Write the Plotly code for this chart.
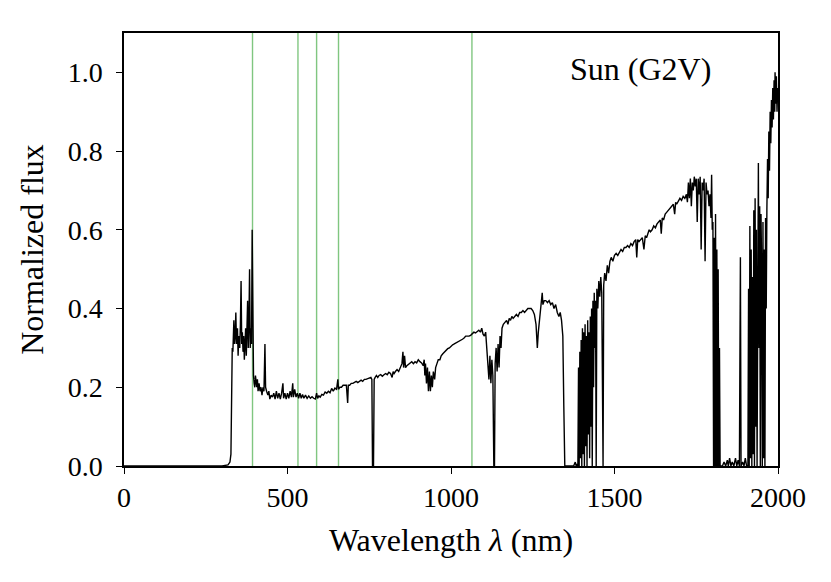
import plotly.graph_objects as go

# solar spectrum, (wavelength nm, normalized flux), split by region
uv_edge = [(0, 0), (300, 0), (318, 0.003), (324, 0.01), (327, 0.03), (329, 0.27), (331, 0.30),
           (333, 0.29), (336, 0.37), (338, 0.31), (340, 0.33), (342, 0.39), (344, 0.31),
           (347, 0.35), (349, 0.28), (351, 0.33), (354, 0.30), (356, 0.36), (358, 0.47),
           (360, 0.31), (362, 0.34), (364, 0.29), (366, 0.33), (368, 0.27), (370, 0.32),
           (372, 0.35), (374, 0.28), (376, 0.33), (378, 0.42), (380, 0.30), (382, 0.36),
           (384, 0.50), (386, 0.30), (388, 0.35), (390, 0.31), (392, 0.60), (394, 0.30),
           (396, 0.23), (398, 0.21), (400, 0.20), (402, 0.23), (404, 0.21), (406, 0.20),
           (408, 0.22), (410, 0.19), (413, 0.21), (416, 0.19), (419, 0.20), (422, 0.18),
           (425, 0.20), (428, 0.19), (431, 0.31), (433, 0.20), (436, 0.19), (440, 0.18),
           (443, 0.19), (446, 0.17)]

visible = [(450, 0.18), (454, 0.175), (458, 0.185), (462, 0.17), (466, 0.19), (470, 0.172),
           (474, 0.185), (478, 0.17), (482, 0.185), (486, 0.21), (488, 0.172), (492, 0.185),
           (496, 0.17), (500, 0.185), (504, 0.172), (508, 0.19), (512, 0.175), (516, 0.21),
           (518, 0.175), (522, 0.195), (526, 0.175), (530, 0.185), (534, 0.172), (538, 0.185),
           (542, 0.172), (546, 0.182), (550, 0.172), (555, 0.18), (560, 0.172), (565, 0.178),
           (570, 0.172), (575, 0.176), (580, 0.172), (585, 0.17), (589, 0.185), (592, 0.172),
           (596, 0.178), (600, 0.175), (605, 0.182), (610, 0.18), (615, 0.188), (620, 0.185),
           (625, 0.19), (630, 0.186), (635, 0.197), (640, 0.19), (645, 0.198), (650, 0.195),
           (654, 0.22), (656, 0.195), (660, 0.2), (665, 0.2), (670, 0.205), (675, 0.205),
           (680, 0.205), (684, 0.16), (686, 0.205), (690, 0.205), (695, 0.21), (700, 0.21),
           (705, 0.212), (710, 0.215), (715, 0.212), (720, 0.215), (725, 0.218), (730, 0.215),
           (735, 0.22), (740, 0.22), (745, 0.222), (750, 0.225), (755, 0.225), (758, 0.22),
           (760, 0.0), (763, 0.0), (765, 0.22), (768, 0.225), (772, 0.23), (776, 0.225),
           (780, 0.23), (785, 0.232), (790, 0.228), (795, 0.232), (800, 0.235), (805, 0.232),
           (810, 0.238), (815, 0.235), (820, 0.225), (823, 0.24), (826, 0.235), (830, 0.24),
           (835, 0.245), (840, 0.24), (845, 0.25), (850, 0.26), (853, 0.29), (855, 0.25),
           (858, 0.28), (861, 0.25), (865, 0.255), (870, 0.258), (875, 0.26), (880, 0.265),
           (885, 0.26), (890, 0.265), (895, 0.262), (900, 0.27), (905, 0.265), (910, 0.262),
           (915, 0.255), (918, 0.27), (920, 0.23), (922, 0.26), (925, 0.21), (928, 0.25),
           (931, 0.19), (934, 0.24), (937, 0.19), (940, 0.23), (943, 0.2), (946, 0.24),
           (950, 0.22), (953, 0.25), (957, 0.26), (961, 0.27), (966, 0.27), (970, 0.28),
           (975, 0.285), (980, 0.29), (985, 0.295), (990, 0.298), (995, 0.30)]

near_ir = [(1000, 0.305), (1005, 0.308), (1010, 0.31), (1015, 0.312), (1020, 0.315),
           (1025, 0.318), (1030, 0.32), (1035, 0.322), (1040, 0.325), (1045, 0.33), (1050, 0.33),
           (1055, 0.33), (1060, 0.332), (1065, 0.335), (1070, 0.34), (1075, 0.338), (1080, 0.342),
           (1085, 0.345), (1090, 0.34), (1094, 0.35), (1098, 0.335), (1102, 0.33), (1106, 0.34),
           (1110, 0.30), (1113, 0.26), (1116, 0.22), (1119, 0.28), (1122, 0.21), (1125, 0.27),
           (1128, 0.23), (1131, 0.0), (1133, 0.0), (1135, 0.26), (1138, 0.30), (1141, 0.24),
           (1144, 0.31), (1147, 0.25), (1150, 0.33), (1153, 0.30), (1156, 0.35), (1160, 0.36),
           (1165, 0.365), (1170, 0.37), (1174, 0.36), (1178, 0.375), (1182, 0.37), (1186, 0.38),
           (1190, 0.375), (1195, 0.38), (1200, 0.385), (1205, 0.38), (1210, 0.39), (1215, 0.39),
           (1220, 0.395), (1225, 0.39), (1230, 0.395), (1235, 0.40), (1240, 0.40), (1245, 0.40),
           (1250, 0.395), (1255, 0.385), (1260, 0.36), (1264, 0.30), (1267, 0.34), (1271, 0.38),
           (1275, 0.40), (1279, 0.44), (1281, 0.41), (1285, 0.42), (1290, 0.42), (1295, 0.415),
           (1300, 0.42), (1305, 0.41), (1310, 0.415), (1315, 0.40), (1320, 0.41), (1325, 0.39),
           (1330, 0.38), (1334, 0.39), (1338, 0.37), (1342, 0.33), (1345, 0.15), (1348, 0.0)]

water_band_1400 = [(1375, 0.0), (1380, 0.01), (1383, 0.0), (1386, 0.005), (1388, 0.0),
                   (1390, 0.25), (1392, 0.0), (1394, 0.29), (1396, 0.02), (1398, 0.32),
                   (1400, 0.0), (1402, 0.35), (1404, 0.03), (1406, 0.34), (1408, 0.0),
                   (1410, 0.36), (1412, 0.05), (1414, 0.33), (1416, 0.0), (1418, 0.37),
                   (1420, 0.08), (1422, 0.34), (1424, 0.02), (1426, 0.38), (1428, 0.1),
                   (1430, 0.40), (1432, 0.0), (1434, 0.42), (1436, 0.2), (1438, 0.44),
                   (1440, 0.3), (1442, 0.42), (1444, 0.0), (1446, 0.45), (1449, 0.40),
                   (1452, 0.47), (1455, 0.43), (1458, 0.48), (1461, 0.44), (1463, 0.0),
                   (1465, 0.0), (1467, 0.46)]

h_band = [(1470, 0.49), (1474, 0.47), (1478, 0.51), (1482, 0.49), (1486, 0.52), (1490, 0.53),
          (1495, 0.52), (1500, 0.535), (1505, 0.54), (1510, 0.535), (1515, 0.545), (1520, 0.55),
          (1525, 0.545), (1530, 0.555), (1535, 0.555), (1540, 0.56), (1545, 0.555), (1550, 0.565),
          (1555, 0.56), (1560, 0.57), (1565, 0.575), (1568, 0.53), (1571, 0.575), (1575, 0.57),
          (1580, 0.575), (1585, 0.58), (1590, 0.55), (1594, 0.585), (1598, 0.58), (1602, 0.59),
          (1606, 0.6), (1610, 0.595), (1615, 0.6), (1620, 0.61), (1625, 0.605), (1630, 0.615),
          (1635, 0.62), (1640, 0.625), (1643, 0.59), (1646, 0.63), (1650, 0.625), (1655, 0.64),
          (1660, 0.645), (1665, 0.65), (1670, 0.655), (1675, 0.66), (1680, 0.665), (1684, 0.64),
          (1687, 0.67), (1690, 0.665), (1695, 0.675), (1700, 0.68), (1705, 0.675), (1710, 0.685),
          (1715, 0.68), (1720, 0.69), (1723, 0.67), (1726, 0.72), (1729, 0.68), (1732, 0.73),
          (1735, 0.66), (1738, 0.72), (1741, 0.70), (1744, 0.735), (1747, 0.71), (1750, 0.73),
          (1753, 0.62), (1756, 0.73), (1759, 0.69), (1762, 0.735), (1765, 0.55), (1768, 0.72),
          (1771, 0.70), (1774, 0.73), (1777, 0.52), (1780, 0.72), (1783, 0.69), (1786, 0.70),
          (1789, 0.66), (1792, 0.69), (1795, 0.63), (1797, 0.74), (1799, 0.60), (1801, 0.62)]

water_band_1900 = [(1803, 0.0), (1805, 0.58), (1807, 0.0), (1809, 0.64), (1811, 0.0),
                   (1813, 0.55), (1815, 0.0), (1817, 0.5), (1819, 0.0), (1821, 0.3), (1823, 0.0),
                   (1830, 0.0), (1835, 0.01), (1840, 0.0), (1845, 0.015), (1848, 0.0),
                   (1852, 0.02), (1856, 0.0), (1860, 0.01), (1865, 0.0), (1870, 0.02),
                   (1874, 0.0), (1878, 0.015), (1882, 0.0), (1885, 0.53), (1887, 0.0),
                   (1892, 0.01), (1896, 0.0), (1900, 0.02), (1904, 0.0), (1908, 0.0),
                   (1910, 0.45), (1912, 0.0), (1914, 0.61), (1916, 0.02), (1918, 0.55),
                   (1920, 0.0), (1922, 0.48), (1924, 0.03), (1926, 0.65), (1928, 0.0),
                   (1930, 0.68), (1932, 0.1), (1934, 0.6), (1936, 0.0), (1938, 0.62),
                   (1940, 0.77), (1942, 0.3), (1944, 0.66), (1946, 0.0), (1948, 0.64),
                   (1950, 0.5), (1952, 0.0), (1954, 0.62), (1956, 0.02), (1958, 0.55),
                   (1960, 0.0), (1962, 0.63), (1964, 0.4)]

k_band_edge = [(1966, 0.65), (1968, 0.78), (1970, 0.68), (1972, 0.85), (1974, 0.75), (1976, 0.9),
               (1978, 0.82), (1980, 0.93), (1982, 0.86), (1984, 0.96), (1986, 0.88), (1988, 0.98),
               (1990, 0.9), (1991, 1.0), (1993, 0.92), (1995, 0.99), (1997, 0.9), (1999, 0.96),
               (2000, 0.95)]

# laser / line markers (nm)
marker_lines = [393, 532, 589, 656, 1064]

segments = [uv_edge, visible, near_ir, water_band_1400, h_band, water_band_1900, k_band_edge]
wavelength = [p[0] for seg in segments for p in seg]
flux = [p[1] for seg in segments for p in seg]

font = "Liberation Serif"

fig = go.Figure()

for wl in marker_lines:
    fig.add_vline(x=wl, line=dict(color="rgba(44,160,44,0.6)", width=1.4), layer="below")

fig.add_scatter(x=wavelength, y=flux, mode="lines",
                line=dict(color="black", width=1.4), showlegend=False)

fig.add_annotation(x=1800, y=1.008, xref="x", yref="y", text="Sun (G2V)",
                   showarrow=False, xanchor="right", yanchor="middle",
                   font=dict(family=font, size=32, color="black"))

axis_style = dict(showline=True, linecolor="black", linewidth=1.5, mirror=True,
                  ticks="outside", ticklen=6, tickwidth=1.3, tickcolor="black",
                  showgrid=False, zeroline=False,
                  tickfont=dict(family=font, size=28, color="black"))

# page body adds an 8px offset, margins are shifted to compensate
fig.update_layout(
    width=831, height=582,
    margin=dict(l=116, r=61, t=25, b=124),
    plot_bgcolor="white", paper_bgcolor="white",
    xaxis=dict(range=[0, 2000], tickvals=[0, 500, 1000, 1500, 2000],
               title=dict(text="Wavelength <i>λ</i> (nm)", standoff=16,
                          font=dict(family=font, size=32, color="black")),
               **axis_style),
    yaxis=dict(range=[0, 1.1], tickvals=[0, 0.2, 0.4, 0.6, 0.8, 1.0], tickformat=".1f",
               ticklabelstandoff=8,
               title=dict(text="Normalized flux", standoff=14,
                          font=dict(family=font, size=32, color="black")),
               **axis_style),
)

fig.write_html("out.html")
